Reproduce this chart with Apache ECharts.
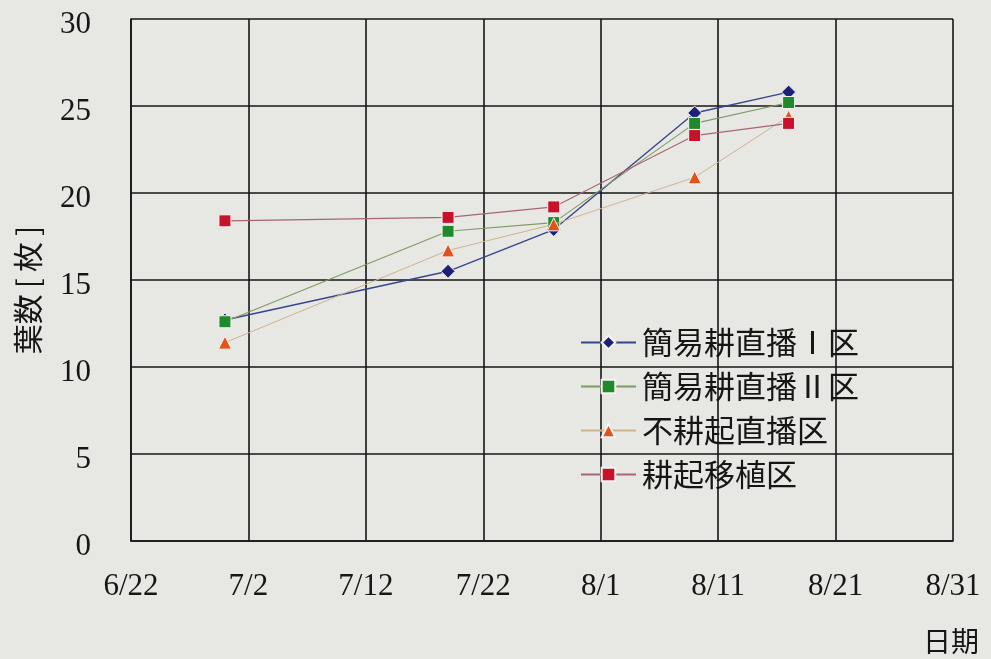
<!DOCTYPE html>
<html>
<head>
<meta charset="utf-8">
<script src="https://cdn.jsdelivr.net/npm/echarts@6/dist/echarts.min.js"></script>
<style>
  html, body { margin: 0; padding: 0; background: #e7e7e4; }
  #chart { width: 991px; height: 659px; }
</style>
</head>
<body>
<div id="chart"></div>
<script>
// Survey dates (month/day) and leaf counts per plot
const surveyDates = ['6/30', '7/19', '7/28', '8/9', '8/17'];
const seriesNames = ['簡易耕直播Ⅰ区', '簡易耕直播Ⅱ区', '不耕起直播区', '耕起移植区'];
const simpleTillI  = [12.7, 15.5, 17.9, 24.6, 25.8];
const simpleTillII = [12.6, 17.8, 18.3, 24.0, 25.2];
const noTillSeed   = [11.4, 16.7, 18.2, 20.9, 24.4];
const tillTransplant = [18.4, 18.6, 19.2, 23.3, 24.0];
const xTickLabels = ['6/22', '7/2', '7/12', '7/22', '8/1', '8/11', '8/21', '8/31'];
const yTickLabels = ['0', '5', '10', '15', '20', '25', '30'];

// Day offset from the first axis date (6/22)
const monthStart = { 6: 0, 7: 30, 8: 61 };
function dayOffset(md) {
  const [m, d] = md.split('/').map(Number);
  return monthStart[m] + d - 22;
}
const xs = surveyDates.map(dayOffset);
const pair = vals => vals.map((v, i) => [xs[i], v]);

const serifFont = 'Liberation Serif';
const cjkFont = 'Noto Sans CJK JP';
const ink = '#161616';

const styles = [
  { symbol: 'diamond',  size: 14, color: '#1c2078', line: '#36468a', width: 1.4 },
  { symbol: 'rect',     size: 12, color: '#1e8a2c', line: '#7f9a62', width: 1.1 },
  { symbol: 'triangle', size: 13, color: '#e4521c', line: '#cdb48e', width: 1.0 },
  { symbol: 'rect',     size: 12, color: '#c8122c', line: '#a86670', width: 1.1 }
];
const values = [simpleTillI, simpleTillII, noTillSeed, tillTransplant];

const chart = echarts.init(document.getElementById('chart'), null, { renderer: 'canvas' });
chart.setOption({
  backgroundColor: '#e7e7e4',
  animation: false,
  grid: { left: 131, right: 38, top: 19, bottom: 118, show: false },
  legend: {
    orient: 'vertical',
    left: 575,
    top: 322,
    itemWidth: 55,
    itemHeight: 17,
    itemGap: 13,
    textStyle: { fontFamily: cjkFont, fontSize: 31, color: ink, padding: [0, 0, 0, 1] },
    data: seriesNames
  },
  xAxis: {
    type: 'value',
    min: 0, max: 70, interval: 10,
    name: '日期',
    nameLocation: 'end',
    nameGap: -2,
    nameMoveOverlap: false,
    nameTextStyle: {
      fontFamily: cjkFont, fontSize: 28, color: ink,
      align: 'center', verticalAlign: 'top', padding: [86, 0, 0, 0]
    },
    axisLine: { show: true, lineStyle: { color: ink, width: 1.6 } },
    axisTick: { show: false },
    axisLabel: {
      margin: 30,
      fontFamily: serifFont, fontSize: 31, color: ink,
      formatter: v => xTickLabels[Math.round(v / 10)]
    },
    splitLine: { show: true, lineStyle: { color: ink, width: 1.6 } }
  },
  yAxis: {
    type: 'value',
    min: 0, max: 30, interval: 5,
    name: '葉数{b|[}枚{b|]}',
    nameLocation: 'middle',
    nameGap: 88,
    nameRotate: 90,
    nameTextStyle: {
      fontFamily: cjkFont, fontSize: 30, color: ink, padding: [0, 14, 0, 0],
      rich: { b: { fontFamily: cjkFont, fontSize: 30, color: ink, padding: [0, 6] } }
    },
    axisLine: { show: true, lineStyle: { color: ink, width: 1.6 } },
    axisTick: { show: false },
    axisLabel: {
      margin: 40,
      formatter: v => '{v|' + yTickLabels[Math.round(v / 5)] + '}',
      rich: { v: { fontFamily: serifFont, fontSize: 31, color: ink, padding: [11, 0, 0, 0] } }
    },
    splitLine: { show: true, lineStyle: { color: ink, width: 1.6 } }
  },
  series: seriesNames.map((name, i) => ({
    name,
    type: 'line',
    data: pair(values[i]),
    symbol: styles[i].symbol,
    symbolSize: styles[i].size,
    showAllSymbol: true,
    itemStyle: { color: styles[i].color, borderColor: '#f4f4f2', borderWidth: 1 },
    lineStyle: { color: styles[i].line, width: styles[i].width },
    emphasis: { disabled: true },
    z: 2 + i
  }))
});
</script>
</body>
</html>
